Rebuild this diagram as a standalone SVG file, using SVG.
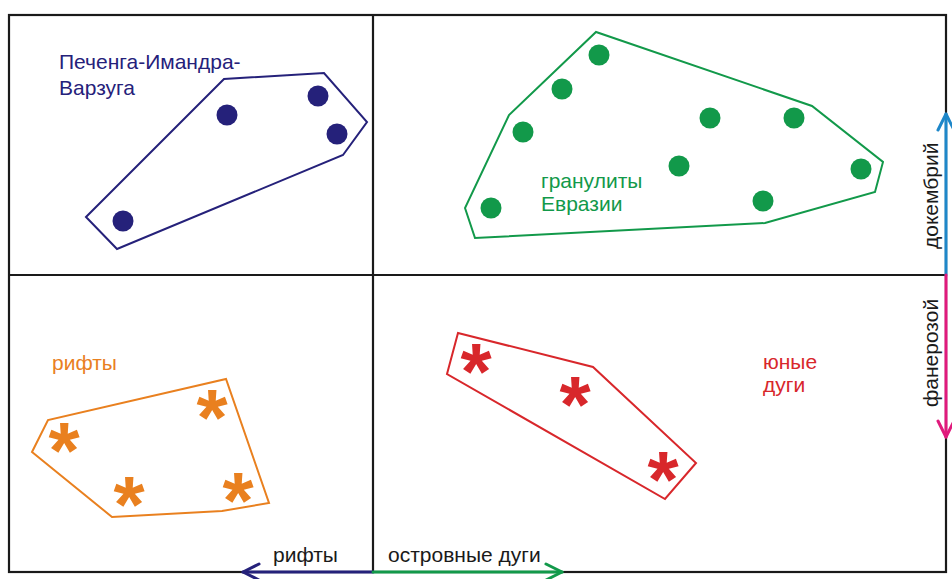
<svg xmlns="http://www.w3.org/2000/svg" width="952" height="579" viewBox="0 0 952 579">
  <style>
    .frame { fill: none; stroke: #1a1a1a; stroke-width: 2.2; }
    .hull { fill: none; stroke-width: 2; stroke-linejoin: miter; }
    .lbl { font-family: "Liberation Sans", Arial, sans-serif; font-size: 21px; }
    .axis { font-family: "Liberation Sans", Arial, sans-serif; font-size: 21px; fill: #1a1a1a; }
    .star { font-family: "Liberation Sans", Arial, sans-serif; font-size: 80px; font-weight: bold; text-anchor: middle; }
    .arrow { fill: none; stroke-width: 3; stroke-linecap: round; stroke-linejoin: round; }
  </style>

  <rect width="952" height="579" fill="#ffffff"/>

  <!-- quadrant frame -->
  <g id="frame">
    <rect class="frame" x="9" y="15" width="937" height="557"/>
    <line class="frame" x1="373" y1="15" x2="373" y2="572"/>
    <line class="frame" x1="9" y1="275" x2="946" y2="275"/>
  </g>

  <!-- Pechenga-Imandra-Varzuga group -->
  <g id="pechenga" fill="#25217a">
    <polygon class="hull" stroke="#25217a" points="86,217 224,79 324,73 367,122 343,155 117,249"/>
    <circle cx="227" cy="115" r="10.5"/>
    <circle cx="318" cy="96" r="10.5"/>
    <circle cx="337" cy="134" r="10.5"/>
    <circle cx="123" cy="221" r="10.5"/>
    <text class="lbl" x="59" y="69">Печенга-Имандра-</text>
    <text class="lbl" x="59" y="95">Варзуга</text>
  </g>

  <!-- Eurasian granulites group -->
  <g id="granulites" fill="#12994a">
    <polygon class="hull" stroke="#12994a" points="465,208 475,238 765,223 875,192 883,162 812,106 596,32 509,115"/>
    <circle cx="599" cy="55" r="10.5"/>
    <circle cx="562" cy="89" r="10.5"/>
    <circle cx="523" cy="132" r="10.5"/>
    <circle cx="710" cy="118" r="10.5"/>
    <circle cx="794" cy="118" r="10.5"/>
    <circle cx="679" cy="166" r="10.5"/>
    <circle cx="861" cy="169" r="10.5"/>
    <circle cx="763" cy="201" r="10.5"/>
    <circle cx="491" cy="208" r="10.5"/>
    <text class="lbl" x="541" y="188">гранулиты</text>
    <text class="lbl" x="541" y="211">Евразии</text>
  </g>

  <!-- rift group -->
  <g id="rifts" fill="#e9801f">
    <polygon class="hull" stroke="#e9801f" points="32,452 48,420 226,379 269,503 222,511 112,517"/>
    <text class="star" x="64" y="478">*</text>
    <text class="star" x="212" y="445">*</text>
    <text class="star" x="129" y="532">*</text>
    <text class="star" x="238" y="528">*</text>
    <text class="lbl" x="52" y="370">рифты</text>
  </g>

  <!-- young arcs group -->
  <g id="young-arcs" fill="#d8272b">
    <polygon class="hull" stroke="#d8272b" points="458,333 593,367 696,463 665,499 447,374"/>
    <text class="star" x="476" y="399">*</text>
    <text class="star" x="575" y="432">*</text>
    <text class="star" x="663" y="507">*</text>
    <text class="lbl" x="763" y="369">юные</text>
    <text class="lbl" x="763" y="392">дуги</text>
  </g>

  <!-- axis arrows -->
  <g id="connectors">
    <polyline class="arrow" stroke="#25217a" points="373,572 243,572"/>
    <polyline class="arrow" stroke="#25217a" points="259,564 243,572 259,580"/>
    <polyline class="arrow" stroke="#12994a" points="373,572 562,572"/>
    <polyline class="arrow" stroke="#12994a" points="546,564 562,572 546,580"/>
    <polyline class="arrow" stroke="#1e87c9" points="946,275 946,114"/>
    <polyline class="arrow" stroke="#1e87c9" points="938,130 946,114 954,130"/>
    <polyline class="arrow" stroke="#e01a7c" points="946,275 946,437"/>
    <polyline class="arrow" stroke="#e01a7c" points="938,421 946,437 954,421"/>
  </g>

  <!-- axis labels -->
  <g id="axis-labels">
    <text class="axis" x="273" y="562">рифты</text>
    <text class="axis" x="388" y="562">островные дуги</text>
    <text class="axis" transform="translate(938,249) rotate(-90)">докембрий</text>
    <text class="axis" transform="translate(938,407) rotate(-90)">фанерозой</text>
  </g>
</svg>
